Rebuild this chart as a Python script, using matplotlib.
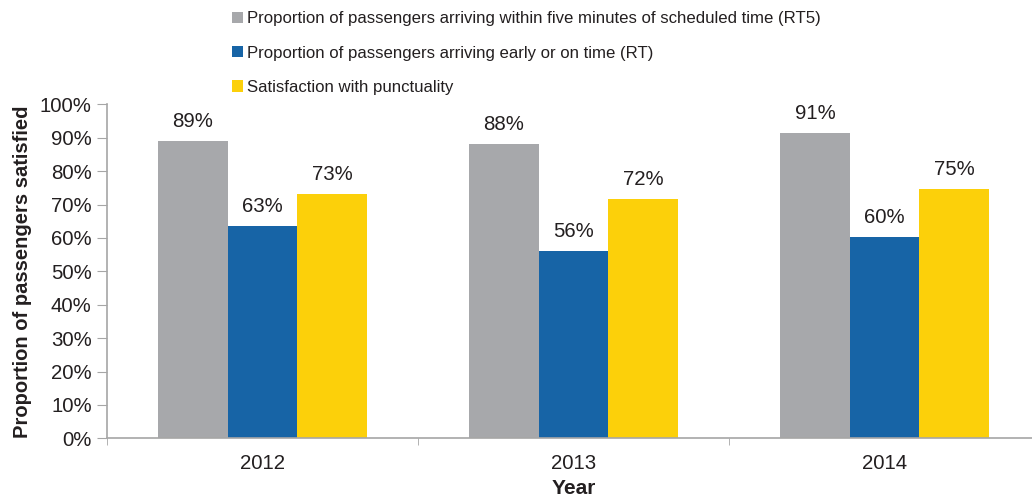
import matplotlib
matplotlib.use("Agg")
import matplotlib.pyplot as plt
from matplotlib.patches import Patch
import numpy as np

plt.rcParams['font.family'] = ['Liberation Sans', 'DejaVu Sans']

years = ["2012", "2013", "2014"]
series_names = [
    "Proportion of passengers arriving within five minutes of scheduled time (RT5)",
    "Proportion of passengers arriving early or on time (RT)",
    "Satisfaction with punctuality",
]
rt5 = [89.1, 88.1, 91.5]
rt = [63.7, 56.1, 60.4]
satisfaction = [73.1, 71.6, 74.6]
rt5_labels = ["89%", "88%", "91%"]
rt_labels = ["63%", "56%", "60%"]
sat_labels = ["73%", "72%", "75%"]
yticks = [0, 10, 20, 30, 40, 50, 60, 70, 80, 90, 100]

colors = ["#a7a8ab", "#1764a6", "#fcd00a"]
text_color = "#231f20"
spine_color = "#a6a6a6"

fig = plt.figure(figsize=(10.32, 4.99), dpi=100)
ax = fig.add_axes([107/1032, 60.7/499, (1040-107)/1032, 334/499])

x = np.arange(len(years))
w = 0.2235
all_vals = [rt5, rt, satisfaction]
all_labels = [rt5_labels, rt_labels, sat_labels]
for i, (vals, labs) in enumerate(zip(all_vals, all_labels)):
    bars = ax.bar(x + (i - 1) * w, vals, width=w, color=colors[i], label=series_names[i], zorder=2)
    for b, lab in zip(bars, labs):
        ax.annotate(lab, (b.get_x() + b.get_width() / 2, b.get_height()),
                    xytext=(0, 7), textcoords="offset points", ha="center", va="bottom",
                    fontsize=14.7, color=text_color)

ax.set_xlim(-0.5, 2.5)
ax.set_ylim(0, 100)
ax.set_yticks(yticks)
ax.set_yticklabels([f"{t}%" for t in yticks])
ax.set_xticks(x)
ax.set_xticklabels(years)
ax.set_xticks([-0.5, 0.5, 1.5, 2.5], minor=True)
ax.tick_params(axis="x", which="major", length=0, pad=11, labelsize=14.7, labelcolor=text_color)
ax.tick_params(axis="x", which="minor", length=5, color=spine_color, direction="out")
ax.tick_params(axis="y", length=7, color=spine_color, labelsize=14.7, labelcolor=text_color, pad=4)
for s in ["top", "right"]:
    ax.spines[s].set_visible(False)
for s in ["left", "bottom"]:
    ax.spines[s].set_color(spine_color)
    ax.spines[s].set_linewidth(1.2)

ax.set_ylabel("Proportion of passengers satisfied", fontsize=14.5, fontweight="bold", color=text_color, labelpad=6)
ax.set_xlabel("Year", fontsize=15, fontweight="bold", color=text_color, labelpad=4.5)

handles = [Patch(facecolor=c) for c in colors]
fig.legend(handles, series_names, loc="upper left", bbox_to_anchor=(223/1032, 0.996),
           frameon=False, fontsize=12.1, handlelength=0.65, handleheight=0.65,
           handletextpad=0.2, labelspacing=1.15, labelcolor=text_color, borderaxespad=0.15)

fig.savefig("out.png", dpi=100)
